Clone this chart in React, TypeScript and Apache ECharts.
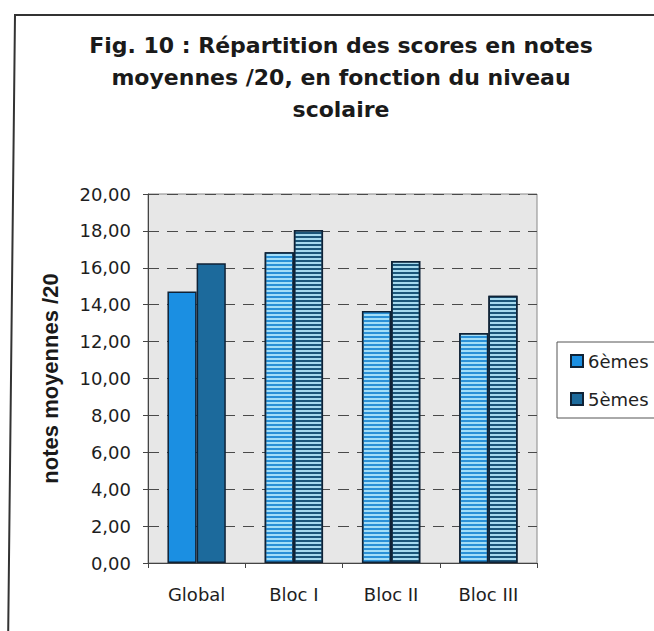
import React, { useEffect, useRef } from "react";
import * as echarts from "echarts";

const titleText = "Fig. 10 : Répartition des scores en notes\nmoyennes /20, en fonction du niveau\nscolaire";
const categories = ["Global", "Bloc I", "Bloc II", "Bloc III"];
const seriesNames = ["6èmes", "5èmes"];
const sixiemes = [14.72, 16.84, 13.66, 12.46];
const cinquiemes = [16.25, 18.05, 16.37, 14.48];
const yMin = 0;
const yMax = 20;
const yInterval = 2;
const yAxisTitle = "notes moyennes /20";

const solidColors = ["#1b8fe2", "#1c6a9c"];
const stripeBase = ["#a3def8", "#a6d9ee"];
const stripeLine = ["#2a90d6", "#1b5579"];

function buildData(values: number[], idx: number) {
  return values.map((v, i) =>
    i === 0
      ? { value: v }
      : {
          value: v,
          itemStyle: {
            color: stripeBase[idx],
            decal: {
              symbol: "rect",
              symbolSize: 1,
              dashArrayX: [1, 0],
              dashArrayY: [2, 2],
              color: stripeLine[idx],
            },
          },
        }
  );
}

export default function App() {
  const ref = useRef<HTMLDivElement>(null);
  useEffect(() => {
    if (!ref.current) return;
    const chart = echarts.init(ref.current, null, { renderer: "svg" });
    const labelFont = "DejaVu Sans";
    chart.setOption({
      animation: false,
      backgroundColor: "#ffffff",
      title: {
        text: titleText,
        left: 341,
        top: 29,
        padding: 0,
        textAlign: "center",
        textStyle: {
          fontFamily: labelFont,
          fontWeight: "bold",
          fontSize: 22,
          lineHeight: 32,
          color: "#1a1a1a",
        },
      },
      legend: {
        orient: "vertical",
        left: 557,
        top: 342,
        padding: [10, 24, 10, 13],
        itemGap: 20,
        itemWidth: 12,
        itemHeight: 12,
        icon: "rect",
        borderColor: "#555",
        borderWidth: 1,
        backgroundColor: "#ffffff",
        textStyle: { fontFamily: labelFont, fontSize: 18, color: "#222" },
        data: seriesNames,
      },
      graphic: [
        {
          type: "polyline",
          shape: { points: [[8, 650], [15, 15], [720, 15]] },
          style: { stroke: "#333", lineWidth: 2, fill: null },
          silent: true,
        },
      ],
      grid: {
        left: 148,
        top: 194,
        width: 389,
        height: 369,
        show: true,
        backgroundColor: "#e7e7e7",
        borderColor: "#888",
        borderWidth: 1,
      },
      xAxis: {
        type: "category",
        data: categories,
        axisLine: { lineStyle: { color: "#444", width: 1 } },
        axisTick: { show: true, length: 5, lineStyle: { color: "#444" } },
        axisLabel: {
          fontFamily: labelFont,
          fontSize: 18,
          color: "#1e1e1e",
          margin: 22,
        },
      },
      yAxis: {
        type: "value",
        min: yMin,
        max: yMax,
        interval: yInterval,
        name: yAxisTitle,
        nameLocation: "middle",
        nameGap: 87,
        nameTextStyle: {
          fontFamily: "Liberation Sans",
          fontWeight: "bold",
          fontSize: 22,
          color: "#1a1a1a",
        },
        axisLine: { show: true, lineStyle: { color: "#444", width: 1 } },
        axisTick: { show: true, length: 5, lineStyle: { color: "#444" } },
        axisLabel: {
          fontFamily: labelFont,
          fontSize: 18,
          color: "#1e1e1e",
          margin: 17,
          formatter: (v: number) => v.toFixed(2).replace(".", ","),
        },
        splitLine: {
          show: true,
          lineStyle: { color: "#4a4a4a", type: [11, 8], width: 1 },
        },
      },
      series: [
        {
          name: seriesNames[0],
          type: "bar",
          data: buildData(sixiemes, 0),
          barGap: "0%",
          barCategoryGap: "40%",
          itemStyle: { color: solidColors[0], borderColor: "#0f2236", borderWidth: 1.5 },
        },
        {
          name: seriesNames[1],
          type: "bar",
          data: buildData(cinquiemes, 1),
          barGap: "0%",
          barCategoryGap: "40%",
          itemStyle: { color: solidColors[1], borderColor: "#0f2236", borderWidth: 1.5 },
        },
      ],
    });
    return () => chart.dispose();
  }, []);
  return (
    <div
      ref={ref}
      style={{ position: "absolute", left: 0, top: 0, width: 654, height: 631 }}
    />
  );
}
